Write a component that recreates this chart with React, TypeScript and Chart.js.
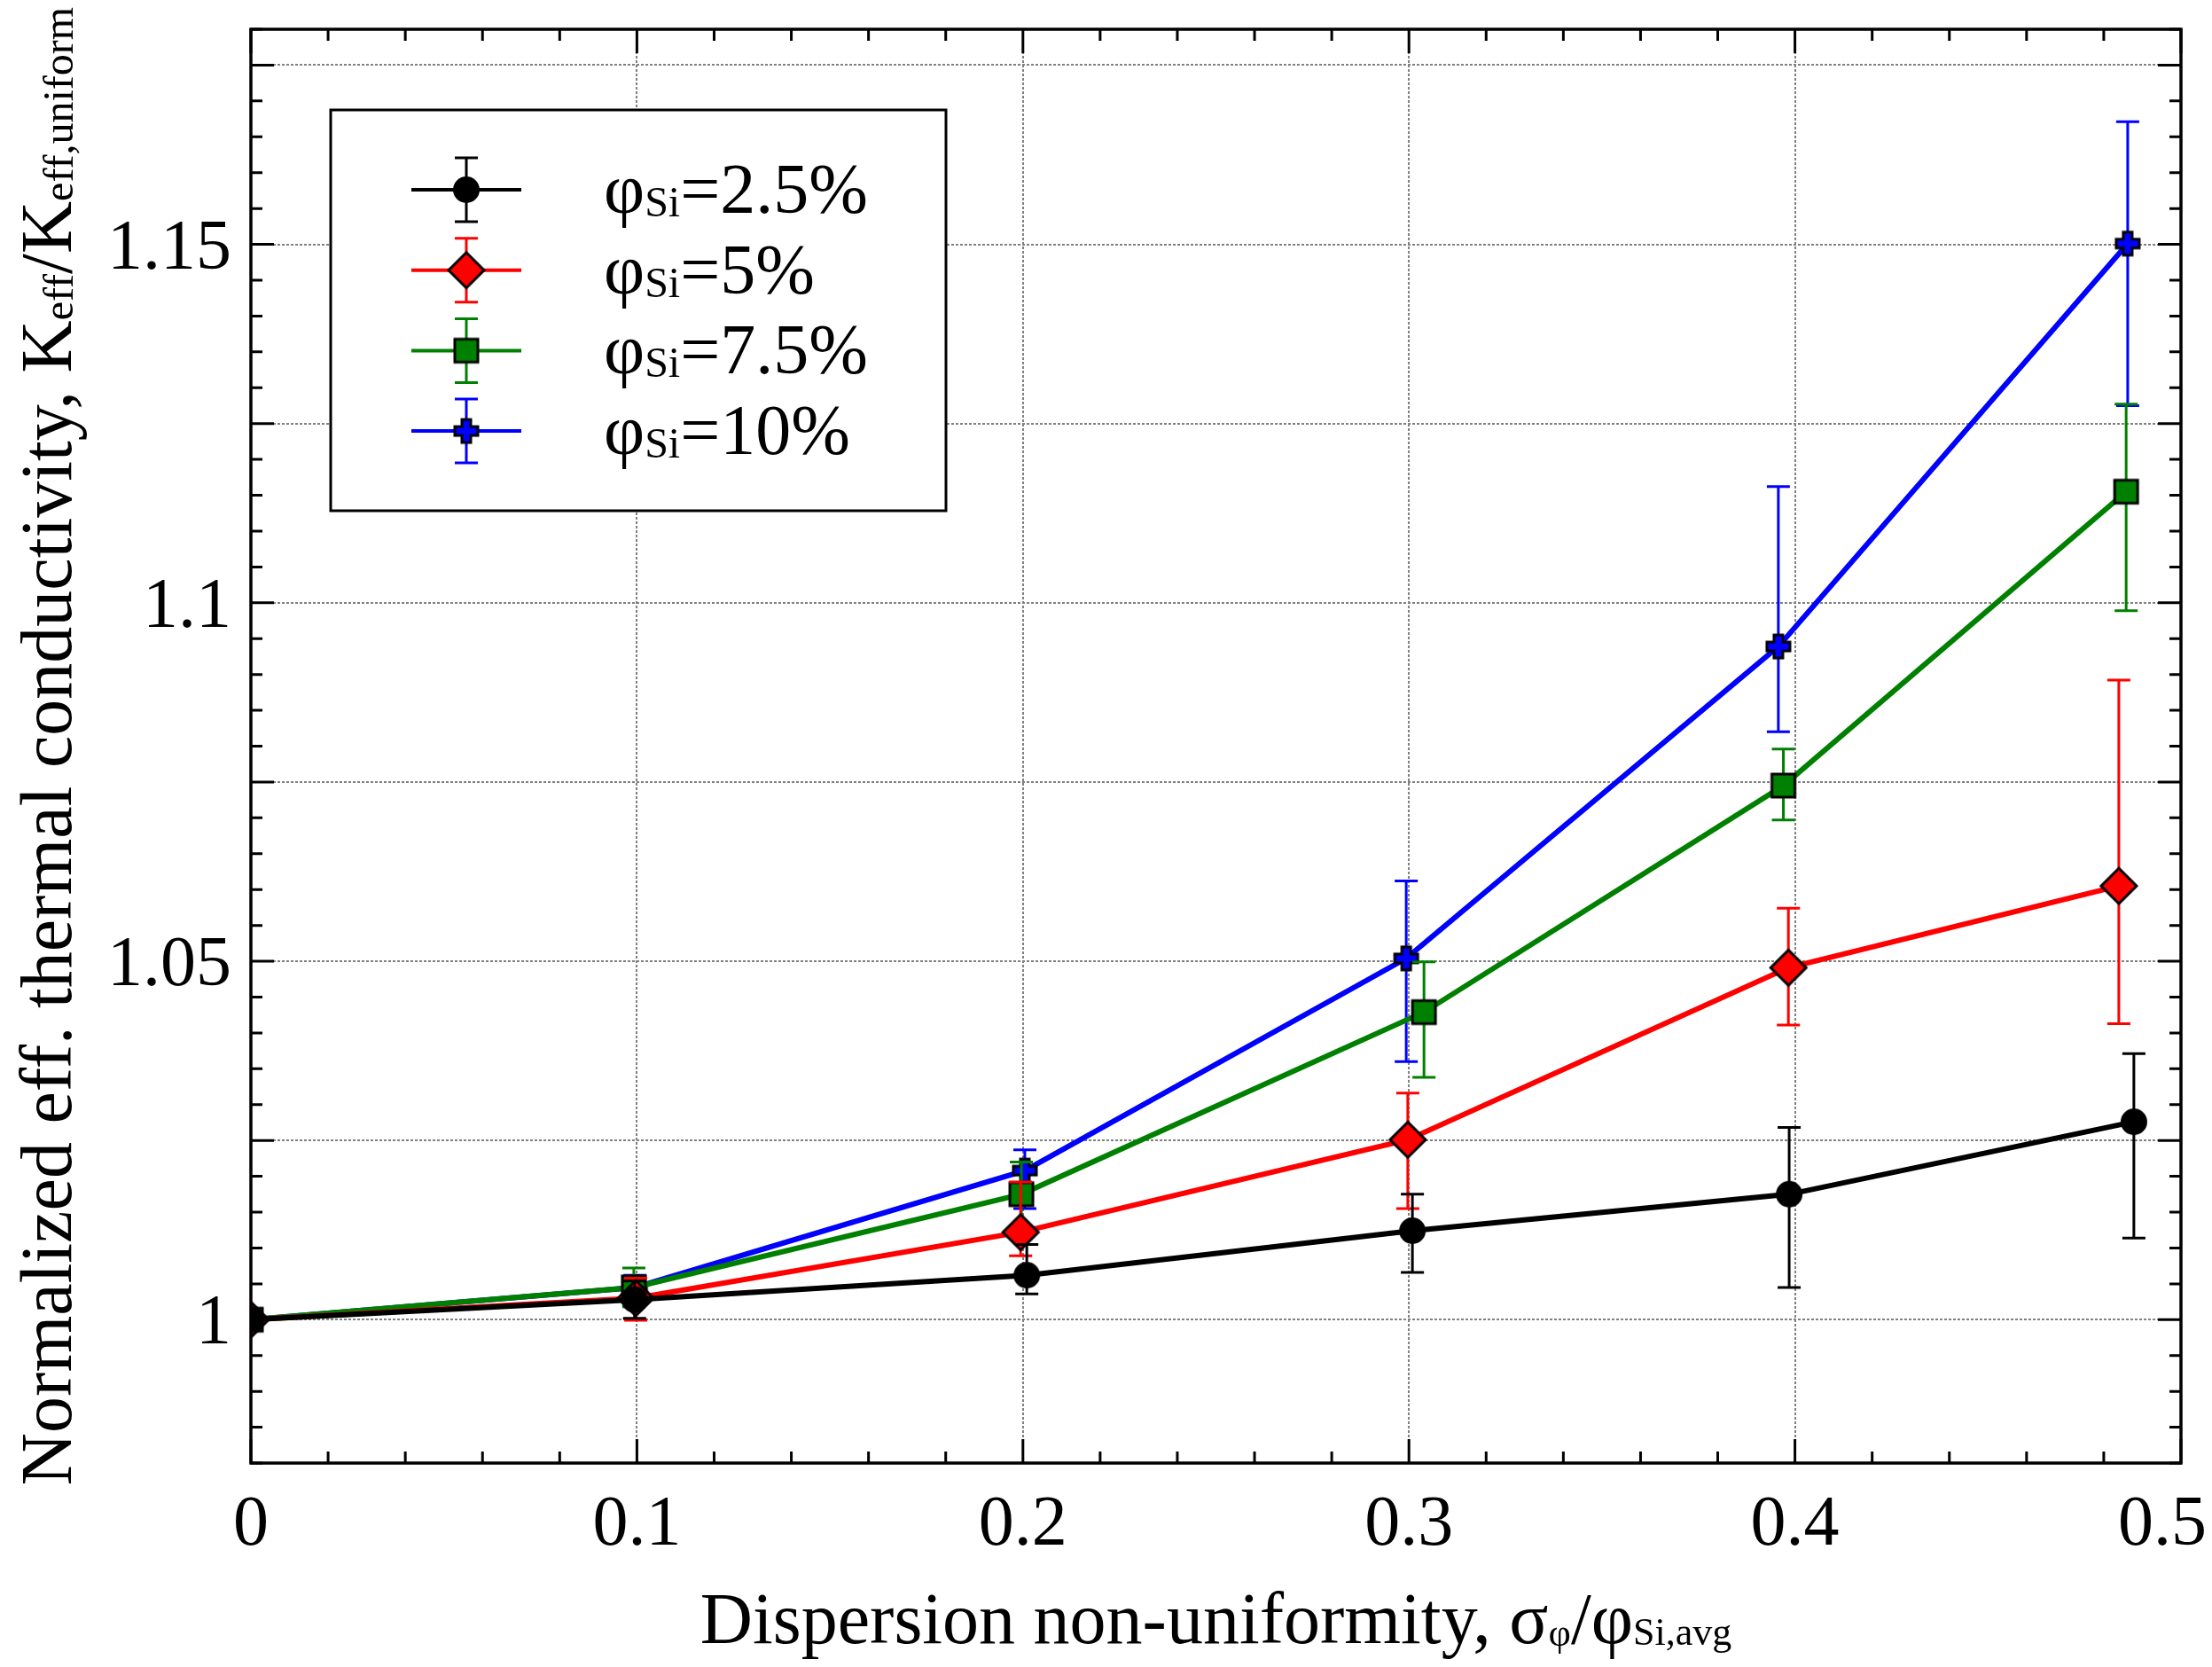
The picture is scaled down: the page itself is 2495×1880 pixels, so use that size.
import React, { useEffect, useRef } from "react";
import { Chart, registerables, Plugin } from "chart.js";

Chart.register(...registerables);

const FONT = '"Liberation Serif", "Times New Roman", serif';

// ---- data ----
const seriesNames = ["=2.5%", "=5%", "=7.5%", "=10%"];
const seriesColors = ["#000000", "#ff0000", "#008000", "#0000ff"];

const xBlack = [0, 0.0994, 0.201, 0.3009, 0.3985, 0.4878];
const yBlack = [1.0, 1.0028, 1.0062, 1.0124, 1.0175, 1.0276];
const lowBlack = [1.0, 1.0002, 1.0036, 1.0066, 1.0045, 1.0114];
const highBlack = [1.0, 1.0054, 1.0105, 1.0175, 1.0268, 1.0371];

const xRed = [0, 0.0997, 0.1994, 0.2997, 0.3983, 0.4839];
const yRed = [1.0, 1.003, 1.0122, 1.0251, 1.0491, 1.0605];
const lowRed = [1.0, 0.9999, 1.0089, 1.0155, 1.0411, 1.0413];
const highRed = [1.0, 1.0058, 1.0192, 1.0316, 1.0574, 1.0892];

const xGreen = [0, 0.0992, 0.1996, 0.3039, 0.397, 0.4858];
const yGreen = [1.0, 1.0045, 1.0175, 1.0429, 1.0745, 1.1155];
const lowGreen = [1.0, 1.0018, 1.013, 1.0338, 1.0697, 1.0989];
const highGreen = [1.0, 1.0072, 1.022, 1.0499, 1.0796, 1.1277];

const xBlue = [0, 0.0995, 0.2005, 0.2993, 0.3957, 0.4862];
const yBlue = [1.0, 1.0045, 1.0208, 1.0504, 1.0939, 1.1501];
const lowBlue = [1.0, 1.0028, 1.0155, 1.036, 1.082, 1.1275];
const highBlue = [1.0, 1.0062, 1.0237, 1.0612, 1.1162, 1.1671];

const xTickValues = [0, 0.1, 0.2, 0.3, 0.4, 0.5];
const xTickLabels = ["0", "0.1", "0.2", "0.3", "0.4", "0.5"];
const yTickValues = [1.0, 1.05, 1.1, 1.15];
const yTickLabels = ["1", "1.05", "1.1", "1.15"];
const yGridValues = [1.0, 1.025, 1.05, 1.075, 1.1, 1.125, 1.15, 1.175];

const series = [
  { x: xBlack, y: yBlack, low: lowBlack, high: highBlack },
  { x: xRed, y: yRed, low: lowRed, high: highRed },
  { x: xGreen, y: yGreen, low: lowGreen, high: highGreen },
  { x: xBlue, y: yBlue, low: lowBlue, high: highBlue },
];

// ---- marker images ----
function makeMarker(kind: string): HTMLCanvasElement {
  const c = document.createElement("canvas");
  const size = kind === "diamond" ? 46 : 34;
  c.width = size;
  c.height = size;
  const g = c.getContext("2d")!;
  const m = size / 2;
  g.lineWidth = 3;
  g.strokeStyle = "#000";
  g.lineJoin = "miter";
  if (kind === "circle") {
    g.fillStyle = "#000";
    g.beginPath();
    g.arc(m, m, 15, 0, Math.PI * 2);
    g.fill();
  } else if (kind === "diamond") {
    g.fillStyle = "#ff0000";
    g.beginPath();
    g.moveTo(m, m - 20);
    g.lineTo(m + 20, m);
    g.lineTo(m, m + 20);
    g.lineTo(m - 20, m);
    g.closePath();
    g.fill();
    g.stroke();
  } else if (kind === "square") {
    g.fillStyle = "#008000";
    g.fillRect(m - 13, m - 13, 26, 26);
    g.strokeRect(m - 13, m - 13, 26, 26);
  } else {
    const a = 13; // half length
    const t = 5; // half arm thickness
    g.fillStyle = "#0000ff";
    g.beginPath();
    g.moveTo(m - t, m - a);
    g.lineTo(m + t, m - a);
    g.lineTo(m + t, m - t);
    g.lineTo(m + a, m - t);
    g.lineTo(m + a, m + t);
    g.lineTo(m + t, m + t);
    g.lineTo(m + t, m + a);
    g.lineTo(m - t, m + a);
    g.lineTo(m - t, m + t);
    g.lineTo(m - a, m + t);
    g.lineTo(m - a, m - t);
    g.lineTo(m - t, m - t);
    g.closePath();
    g.fill();
    g.stroke();
  }
  return c;
}

type Run = { t: string; size: number; dy: number };

function runsWidth(ctx: CanvasRenderingContext2D, runs: Run[]) {
  let w = 0;
  runs.forEach((r) => {
    ctx.font = `${r.size}px ${FONT}`;
    w += ctx.measureText(r.t).width;
  });
  return w;
}

function drawRuns(ctx: CanvasRenderingContext2D, runs: Run[], x: number, y: number, align: "left" | "center") {
  let cx = align === "center" ? x - runsWidth(ctx, runs) / 2 : x;
  ctx.textAlign = "left";
  ctx.textBaseline = "alphabetic";
  runs.forEach((r) => {
    ctx.font = `${r.size}px ${FONT}`;
    ctx.fillText(r.t, cx, y + r.dy);
    cx += ctx.measureText(r.t).width;
  });
}

const App: React.FC = () => {
  const canvasRef = useRef<HTMLCanvasElement | null>(null);
  const chartRef = useRef<Chart<"scatter"> | null>(null);

  useEffect(() => {
    const canvas = canvasRef.current;
    if (!canvas) return;
    const ctx = canvas.getContext("2d");
    if (!ctx) return;

    const markers = [makeMarker("circle"), makeMarker("diamond"), makeMarker("square"), makeMarker("plus")];

    const errorBars: Plugin<"scatter"> = {
      id: "errorBars",
      beforeDatasetDraw(chart, args) {
        const c = chart.ctx;
        const s = series[args.index];
        const xs = chart.scales.x;
        const ys = chart.scales.y;
        c.save();
        c.strokeStyle = seriesColors[args.index];
        c.lineWidth = 3;
        c.beginPath();
        s.x.forEach((xv, i) => {
          if (s.high[i] === s.low[i]) return;
          const px = xs.getPixelForValue(xv);
          const top = ys.getPixelForValue(s.high[i]);
          const bot = ys.getPixelForValue(s.low[i]);
          c.moveTo(px, top);
          c.lineTo(px, bot);
          c.moveTo(px - 13, top);
          c.lineTo(px + 13, top);
          c.moveTo(px - 13, bot);
          c.lineTo(px + 13, bot);
        });
        c.stroke();
        c.restore();
      },
    };

    const decorations: Plugin<"scatter"> = {
      id: "decorations",
      afterDraw(chart) {
        const c = chart.ctx;
        const { left, right, top, bottom } = chart.chartArea;
        const xs = chart.scales.x;
        const ys = chart.scales.y;
        c.save();

        // inward ticks on all four sides
        c.strokeStyle = "#000";
        c.lineWidth = 3;
        c.beginPath();
        for (let k = 0; k <= 25; k++) {
          const px = xs.getPixelForValue(k * 0.02);
          const len = k % 5 === 0 ? 27 : 13;
          c.moveTo(px, bottom);
          c.lineTo(px, bottom - len);
          c.moveTo(px, top);
          c.lineTo(px, top + len);
        }
        for (let k = 0; k <= 40; k++) {
          const py = ys.getPixelForValue(0.98 + k * 0.005);
          const len = (k + 1) % 5 === 0 ? 26 : 13;
          c.moveTo(left, py);
          c.lineTo(left + len, py);
          c.moveTo(right, py);
          c.lineTo(right - len, py);
        }
        c.stroke();

        // frame
        c.lineWidth = 3.5;
        c.strokeRect(left, top, right - left, bottom - top);

        // tick labels
        c.fillStyle = "#000";
        c.font = `80px ${FONT}`;
        c.textBaseline = "alphabetic";
        c.textAlign = "center";
        xTickValues.forEach((v, i) => {
          const w = c.measureText(xTickLabels[i]).width;
          let px = xs.getPixelForValue(v);
          if (px + w / 2 > chart.width - 6) px = chart.width - 6 - w / 2;
          c.fillText(xTickLabels[i], px, bottom + 92);
        });
        c.textAlign = "right";
        yTickValues.forEach((v, i) => {
          c.fillText(yTickLabels[i], left - 22, ys.getPixelForValue(v) + 27);
        });

        // axis titles
        drawRuns(
          c,
          [
            { t: "Dispersion non-uniformity, σ", size: 82, dy: 0 },
            { t: "φ", size: 44, dy: 3 },
            { t: "/φ", size: 82, dy: 0 },
            { t: "Si,avg", size: 44, dy: 2 },
          ],
          (left + right) / 2,
          bottom + 203,
          "center"
        );
        c.save();
        c.translate(80, (top + bottom) / 2);
        c.rotate(-Math.PI / 2);
        drawRuns(
          c,
          [
            { t: "Normalized eff. thermal conductivity, K", size: 82, dy: 0 },
            { t: "eff", size: 48, dy: 2 },
            { t: "/K", size: 82, dy: 0 },
            { t: "eff,uniform", size: 48, dy: 2 },
          ],
          0,
          0,
          "center"
        );
        c.restore();

        // legend
        const lx = 373;
        const ly = 124;
        c.fillStyle = "#fff";
        c.fillRect(lx, ly, 694, 452);
        c.strokeStyle = "#000";
        c.lineWidth = 3;
        c.strokeRect(lx, ly, 694, 452);
        seriesNames.forEach((name, i) => {
          const ry = 214 + i * 90.7;
          const mx = 526;
          c.strokeStyle = seriesColors[i];
          c.lineWidth = 4;
          c.beginPath();
          c.moveTo(464, ry);
          c.lineTo(588, ry);
          c.stroke();
          c.lineWidth = 3;
          c.beginPath();
          c.moveTo(mx, ry - 36);
          c.lineTo(mx, ry + 36);
          c.moveTo(mx - 13, ry - 36);
          c.lineTo(mx + 13, ry - 36);
          c.moveTo(mx - 13, ry + 36);
          c.lineTo(mx + 13, ry + 36);
          c.stroke();
          const img = markers[i];
          c.drawImage(img, mx - img.width / 2, ry - img.height / 2);
          c.fillStyle = "#000";
          drawRuns(
            c,
            [
              { t: "φ", size: 80, dy: 0 },
              { t: "Si", size: 48, dy: 4 },
              { t: name, size: 80, dy: 0 },
            ],
            681,
            ry + 26,
            "left"
          );
        });

        c.restore();
      },
    };

    if (chartRef.current) chartRef.current.destroy();

    chartRef.current = new Chart(ctx, {
      type: "scatter",
      data: {
        datasets: series.map((s, i) => ({
          label: seriesNames[i],
          data: s.x.map((xv, j) => ({ x: xv, y: s.y[j] })),
          showLine: true,
          borderColor: seriesColors[i],
          backgroundColor: seriesColors[i],
          borderWidth: 6,
          pointStyle: markers[i],
          pointRadius: 15,
          pointHoverRadius: 15,
          tension: 0,
        })),
      },
      options: {
        responsive: false,
        animation: false,
        events: [],
        layout: { padding: { left: 0, top: 33, right: 35, bottom: 0 } },
        plugins: {
          legend: { display: false },
          tooltip: { enabled: false },
        },
        scales: {
          x: {
            type: "linear",
            min: 0,
            max: 0.5,
            afterBuildTicks: (scale) => {
              scale.ticks = xTickValues.map((v) => ({ value: v }));
            },
            afterFit: (scale) => {
              scale.height = 230;
            },
            ticks: { display: false },
            grid: { color: "#808080", lineWidth: 2, drawTicks: false },
            border: { display: false, dash: [3, 2] },
          },
          y: {
            type: "linear",
            min: 0.98,
            max: 1.18,
            afterBuildTicks: (scale) => {
              scale.ticks = yGridValues.map((v) => ({ value: v }));
            },
            afterFit: (scale) => {
              scale.width = 283;
            },
            ticks: { display: false },
            grid: { color: "#808080", lineWidth: 2, drawTicks: false },
            border: { display: false, dash: [3, 2] },
          },
        },
      },
      plugins: [errorBars, decorations],
    });

    return () => {
      if (chartRef.current) {
        chartRef.current.destroy();
        chartRef.current = null;
      }
    };
  }, []);

  return (
    <div style={{ position: "fixed", left: 0, top: 0, width: 2495, height: 1880, background: "#fff" }}>
      <canvas ref={canvasRef} width={2495} height={1880} style={{ width: 2495, height: 1880 }} />
    </div>
  );
};

export default App;
